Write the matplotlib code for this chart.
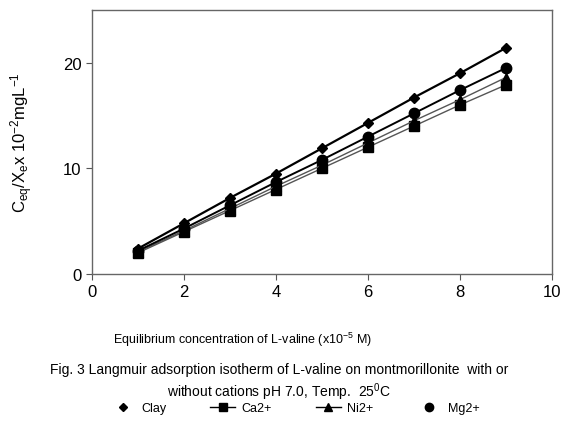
import matplotlib
matplotlib.use("Agg")
import matplotlib.pyplot as plt
from matplotlib.lines import Line2D

plt.rcParams['font.family'] = ['Liberation Sans', 'DejaVu Sans']
plt.rcParams['mathtext.default'] = 'regular'

x = [1, 2, 3, 4, 5, 6, 7, 8, 9]
clay = [2.4, 4.8, 7.2, 9.5, 11.9, 14.3, 16.7, 19.0, 21.4]
ca = [2.0, 4.0, 6.0, 8.0, 10.0, 12.0, 14.0, 16.0, 17.9]
ni = [2.1, 4.1, 6.2, 8.3, 10.3, 12.4, 14.5, 16.5, 18.6]
mg = [2.2, 4.3, 6.5, 8.7, 10.8, 13.0, 15.2, 17.4, 19.5]

fig = plt.figure(figsize=(5.62, 4.31), dpi=100)
ax = fig.add_axes([0.1637, 0.362, 0.818, 0.6125])

ax.plot(x, ca, color='#555555', lw=1.0, marker='s', ms=7, mfc='black', mec='black')
ax.plot(x, ni, color='#555555', lw=1.0, marker='^', ms=7, mfc='black', mec='black')
ax.plot(x, mg, color='black', lw=1.4, marker='o', ms=7.5, mfc='black', mec='black')
ax.plot(x, clay, color='black', lw=1.6, marker='D', ms=5, mfc='black', mec='black')

ax.set_xlim(0, 10)
ax.set_ylim(0, 25)
ax.set_xticks([0, 2, 4, 6, 8, 10])
ax.set_yticks([0, 10, 20])
ax.tick_params(direction='out', labelsize=12, length=4, color='#555555')
for s in ax.spines.values():
    s.set_color('#666666')
    s.set_linewidth(1.0)

ax.set_ylabel(r'C$_{eq}$/X$_{e}$x 10$^{-2}$mgL$^{-1}$', fontsize=12, labelpad=20)
fig.text(0.432, 0.211, 'Equilibrium concentration of L-valine (x10$^{-5}$ M)', ha='center', va='center', fontsize=9)
fig.text(0.497, 0.112, 'Fig. 3 Langmuir adsorption isotherm of L-valine on montmorillonite  with or\nwithout cations pH 7.0, Temp.  25$^{0}$C',
         ha='center', va='center', fontsize=10, linespacing=1.3)

handles = [
    Line2D([], [], ls='none', marker='D', ms=4.5, color='black'),
    Line2D([], [], ls='-', lw=1.0, marker='s', ms=6, color='black'),
    Line2D([], [], ls='-', lw=1.0, marker='^', ms=6, color='black'),
    Line2D([], [], ls='none', marker='o', ms=6, color='black'),
]
fig.legend(handles, ['Clay', 'Ca2+', 'Ni2+', 'Mg2+'], loc='center', bbox_to_anchor=(0.525, 0.05),
           ncol=4, frameon=False, fontsize=9, columnspacing=3.5, handlelength=2.0, handletextpad=0.5)

fig.savefig('out.png', dpi=100)
